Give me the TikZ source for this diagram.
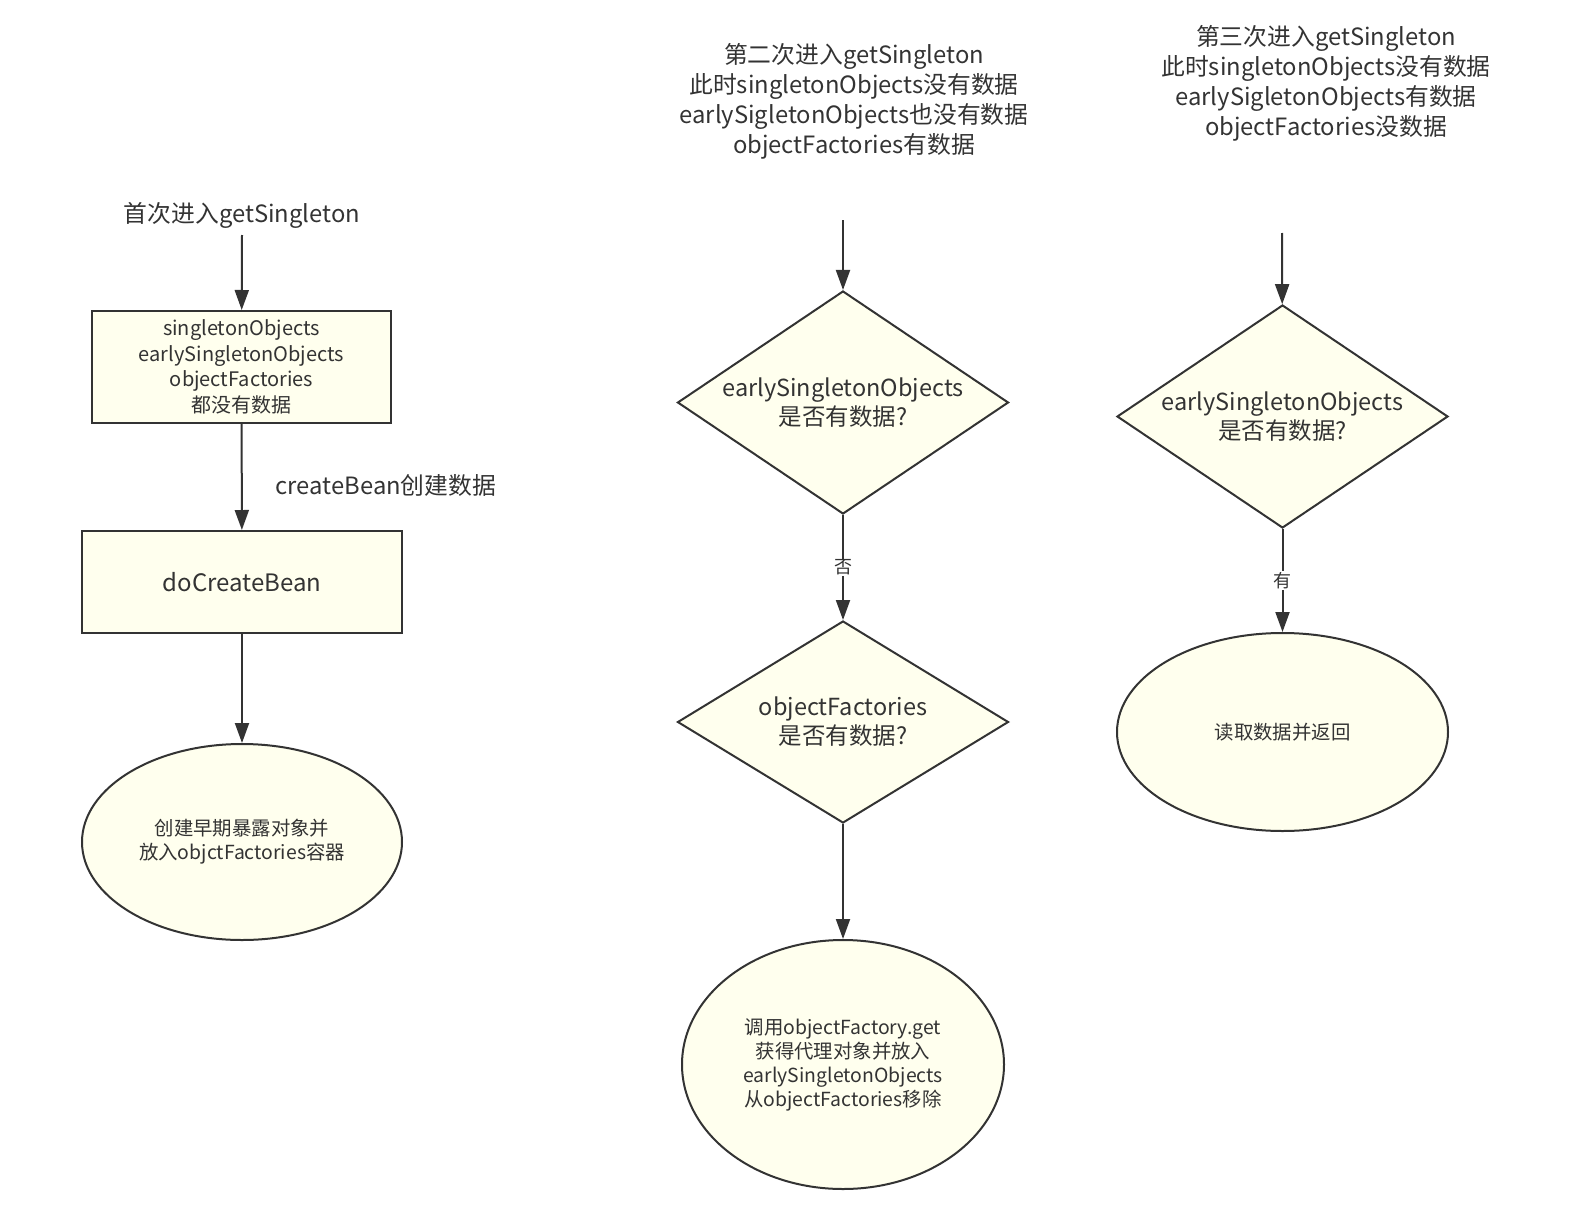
\documentclass[tikz,border=0pt]{standalone}
\usepackage{fontspec}
\setmainfont{Noto Sans CJK SC}
\usetikzlibrary{shapes.geometric,arrows.meta}
\definecolor{boxfill}{HTML}{FFFFEE}
\definecolor{ink}{HTML}{333333}

\begin{document}
\begin{tikzpicture}[x=1pt, y=-1pt,
block/.style = {rectangle, draw=ink, fill=boxfill, line width=2pt, align=center, text=ink, inner sep=0pt},
decision/.style = {diamond, draw=ink, fill=boxfill, line width=2pt, align=center, text=ink, inner sep=0pt, aspect=1.48, minimum width=331pt, minimum height=223pt, font=\fontsize{23.5}{29}\selectfont},
result/.style = {ellipse, draw=ink, fill=boxfill, line width=2pt, align=center, text=ink, inner sep=0pt, font=\fontsize{19.4}{24}\selectfont},
title/.style = {align=center, text=ink, font=\fontsize{23.8}{30}\selectfont},
flow/.style = {-{Triangle[length=20pt,width=14pt]}, line width=2pt, draw=ink}]
\useasboundingbox (0,0) rectangle (1571,1228);

% first call
\node[title] at (242,215) (t1) {首次进入getSingleton};
\node[block, minimum width=299pt, minimum height=112pt, font=\fontsize{20}{25.5}\selectfont] at (241.5,367) (empty) {singletonObjects\\earlySingletonObjects\\objectFactories\\都没有数据};
\node[block, minimum width=320pt, minimum height=102pt, font=\fontsize{24}{28}\selectfont] at (242,582) (docreate) {doCreateBean};
\node[result, minimum width=320pt, minimum height=196pt] at (242,842) (expose) {创建早期暴露对象并\\放入objctFactories容器};
\node[title] at (386,485) (lblcreate) {createBean创建数据};
\draw [flow] (242,235) -- (empty);
\draw [flow] (empty) -- (docreate);
\draw [flow] (docreate) -- (expose);

% second call
\node[title] at (854,101) (t2) {第二次进入getSingleton\\此时singletonObjects没有数据\\earlySigletonObjects也没有数据\\objectFactories有数据};
\coordinate (in2) at (843,220);
\node[decision] at (843,402.5) (early2) {earlySingletonObjects\\是否有数据?};
\node[decision, minimum height=202pt] at (843,722) (factory2) {objectFactories\\是否有数据?};
\node[result, minimum width=322pt, minimum height=249pt] at (843,1064.5) (proxy) {调用objectFactory.get\\获得代理对象并放入\\earlySingletonObjects\\从objectFactories移除};
\draw [flow] (in2) -- (early2);
\draw [flow] (early2) -- node[fill=white, text=ink, font=\fontsize{18}{20}\selectfont, inner sep=1pt] (lblno) {否} (factory2);
\draw [flow] (factory2) -- (proxy);

% third call
\node[title] at (1326,83) (t3) {第三次进入getSingleton\\此时singletonObjects没有数据\\earlySigletonObjects有数据\\objectFactories没数据};
\coordinate (in3) at (1282,233);
\node[decision] at (1282.5,416.5) (early3) {earlySingletonObjects\\是否有数据?};
\node[result, minimum width=331pt, minimum height=198pt] at (1282.5,732) (fetch) {读取数据并返回};
\draw [flow] (in3) -- (early3);
\draw [flow] (early3) -- node[fill=white, text=ink, font=\fontsize{18}{20}\selectfont, inner sep=1pt] (lblyes) {有} (fetch);
\end{tikzpicture}
\end{document}
